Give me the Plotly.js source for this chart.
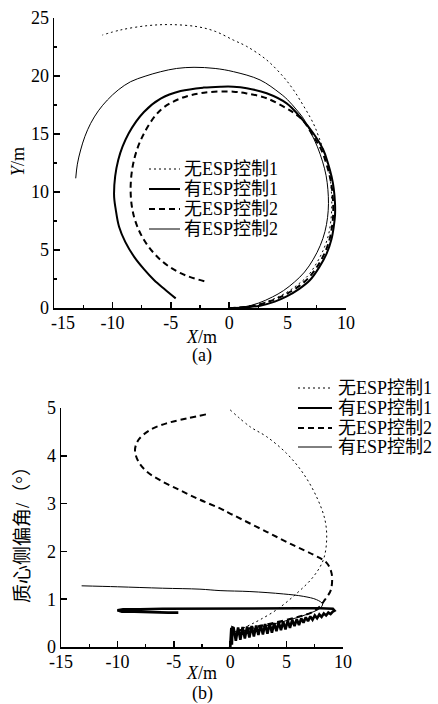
<!DOCTYPE html>
<html>
<head>
<meta charset="utf-8">
<script src="https://cdn.plot.ly/plotly-3.0.1.min.js"></script>
<style>html,body{margin:0;padding:0;background:#fff;}#chart{width:438px;height:704px;}</style>
</head>
<body>
<div id="chart"></div>
<script>
// ---------- legend / tick labels ----------
const legendNames = ['无ESP控制1', '有ESP控制1', '无ESP控制2', '有ESP控制2'];
const xTickVals = [-15, -10, -5, 0, 5, 10];
const xTickTextA = ['\u00a0\u00a0\u00a0\u00a0-15', '-10', '-5', '0', '5', '10'];
const xTickTextB = ['-15', '-10', '-5', '0', '5', '10'];

// ---------- (a) trajectories: X (m) vs Y (m) ----------
const trajNoEsp1X = [0, 1.4, 2.6, 3.85, 4.85, 5.85, 6.75, 7.5, 8.1, 8.5, 8.7, 8.78, 8.77, 8.68, 8.45, 8.06, 7.65, 7.2, 6.06, 5.4, 4.63, 3.21, 1.5, 0.35, -1.2, -2.73, -5.01, -7.0, -9.29, -10.86];
const trajNoEsp1Y = [0, 0.1, 0.33, 0.8, 1.3, 2.0, 2.8, 3.9, 5.1, 6.3, 7.5, 8.6, 9.6, 10.8, 12.3, 13.62, 14.8, 15.92, 17.93, 18.95, 19.94, 21.38, 22.55, 23.1, 23.85, 24.25, 24.43, 24.34, 23.97, 23.53];

const trajEsp1X = [0, 1.3, 2.64, 3.9, 4.92, 6.0, 6.92, 7.7, 8.35, 8.75, 8.95, 9.06, 9.06, 8.95, 8.77, 8.45, 8.06, 7.2, 6.06, 4.92, 3.21, 1.5, 0.35, -0.73, -2.2, -4.16, -5.87, -7.3, -8.6, -9.5, -9.86, -9.7, -9.43, -8.9, -8.15, -7.3, -6.44, -5.5, -4.58];
const trajEsp1Y = [0, 0.05, 0.2, 0.55, 1.0, 1.65, 2.41, 3.5, 4.71, 5.9, 7.0, 8.0, 9.0, 10.3, 11.32, 12.5, 13.62, 15.06, 16.49, 17.64, 18.51, 18.95, 19.08, 19.08, 19.0, 18.7, 18.05, 16.9, 15.06, 12.76, 9.89, 8.4, 7.0, 5.7, 4.43, 3.35, 2.42, 1.6, 0.83];

const trajNoEsp2X = [0, 1.3, 2.6, 3.8, 4.8, 5.85, 6.75, 7.55, 8.2, 8.6, 8.8, 8.9, 8.9, 8.8, 8.62, 8.3, 7.9, 7.08, 6.3, 5.5, 4.92, 3.21, 1.5, 0.35, -2.16, -4.16, -5.87, -7.29, -8.15, -8.44, -8.15, -7.29, -5.87, -4.16, -2.01];
const trajNoEsp2Y = [0, 0.08, 0.3, 0.7, 1.15, 1.8, 2.55, 3.6, 4.8, 5.95, 7.0, 8.0, 9.0, 10.3, 11.32, 12.5, 13.62, 15.0, 16.2, 16.85, 17.21, 18.08, 18.5, 18.65, 18.56, 18.07, 17.07, 15.06, 12.76, 10.17, 7.87, 5.86, 4.14, 3.0, 2.27];

const trajEsp2X = [0, 1.3, 2.5, 3.7, 4.65, 5.6, 6.45, 7.2, 7.8, 8.2, 8.42, 8.5, 8.45, 8.3, 8.0, 7.55, 7.0, 6.35, 5.78, 5.0, 4.35, 2.64, 0.38, -1.2, -3.01, -4.5, -5.87, -7.2, -8.44, -9.5, -10.43, -11.2, -11.86, -12.35, -12.72, -13.0, -13.14];
const trajEsp2Y = [0, 0.1, 0.42, 0.95, 1.5, 2.25, 3.1, 4.2, 5.4, 6.6, 7.8, 9.0, 10.2, 11.4, 12.6, 13.9, 15.1, 16.35, 17.07, 17.95, 18.51, 19.66, 20.37, 20.65, 20.75, 20.65, 20.37, 19.98, 19.51, 18.8, 17.93, 17.0, 15.92, 14.8, 13.62, 12.4, 11.18];

// ---------- (b) sideslip angle (deg) vs X (m) ----------
const betaNoEsp1X = [0, 0.2, 0.6, 1.2, 1.9, 2.64, 4.12, 5.89, 7.37, 8.25, 8.55, 8.4, 7.66, 6.48, 5.0, 3.23, 1.75, 0];
const betaNoEsp1Y = [0, 0.25, 0.3, 0.4, 0.48, 0.57, 0.78, 1.12, 1.47, 1.82, 2.24, 2.66, 3.14, 3.63, 4.05, 4.4, 4.61, 4.96];

const betaEsp1X = [0, 0.1, 0.15, 0.2, 0.3, 0.5, 0.7, 0.9, 1.1, 1.3, 1.5, 1.7, 1.9, 2.1, 2.3, 2.5, 2.7, 2.9, 3.1, 3.3, 3.5, 3.7, 3.9, 4.1, 4.3, 4.5, 4.7, 4.9, 5.1, 5.3, 5.5, 5.7, 5.9, 6.1, 6.3, 6.5, 6.7, 6.9, 7.1, 7.3, 7.5, 7.7, 7.9, 8.1, 8.3, 8.5, 8.7, 8.9, 9.1, 9.25, 9.1, 8.0, 6.0, 4.0, 2.0, 0, -2, -4, -6, -8, -9.5, -10.0, -9.6, -8.5, -7.5, -6.5, -5.5, -4.6];
const betaEsp1Y = [0, 0.40, 0.05, 0.41, 0.40, 0.13, 0.41, 0.15, 0.42, 0.18, 0.43, 0.20, 0.44, 0.22, 0.45, 0.25, 0.46, 0.26, 0.48, 0.28, 0.49, 0.30, 0.50, 0.33, 0.52, 0.35, 0.53, 0.37, 0.55, 0.40, 0.57, 0.44, 0.58, 0.46, 0.60, 0.51, 0.62, 0.54, 0.64, 0.57, 0.66, 0.60, 0.68, 0.63, 0.70, 0.66, 0.72, 0.69, 0.74, 0.76, 0.80, 0.81, 0.81, 0.81, 0.81, 0.81, 0.80, 0.80, 0.80, 0.79, 0.79, 0.77, 0.74, 0.74, 0.73, 0.73, 0.72, 0.72];

const betaNoEsp2X = [0, 0.3, 1.5, 3, 4.5, 6, 7.2, 7.96, 8.4, 8.85, 8.99, 8.99, 8.55, 7.37, 5.59, 3.23, 0.27, -0.9, -2.68, -4.45, -6.22, -7.40, -8.14, -8.44, -8.14, -7.11, -5.63, -3.86, -2.08];
const betaNoEsp2Y = [0, 0.3, 0.38, 0.46, 0.54, 0.63, 0.72, 0.85, 0.99, 1.15, 1.26, 1.54, 1.76, 1.93, 2.13, 2.41, 2.76, 2.90, 3.08, 3.28, 3.49, 3.67, 3.88, 4.12, 4.33, 4.54, 4.68, 4.78, 4.87];

const betaEsp2X = [0, 0.3, 1.5, 3, 4.5, 6, 7.2, 7.96, 8.19, 7.66, 6.48, 4.71, 1.75, -0.9, -2.68, -6, -10, -13.17];
const betaEsp2Y = [0, 0.3, 0.35, 0.43, 0.52, 0.62, 0.72, 0.81, 0.9, 0.99, 1.06, 1.11, 1.16, 1.18, 1.21, 1.23, 1.26, 1.28];

// ---------- styling ----------
const FONT = 'Liberation Serif, Times New Roman, Noto Sans CJK SC, serif';
const FS = 18;
const styles = [
  {color: '#000', width: 1, dash: '2px,3px'},
  {color: '#000', width: 2, dash: 'solid'},
  {color: '#000', width: 2, dash: '6px,4px'},
  {color: '#000', width: 1, dash: 'solid'}
];

const trajX = [trajNoEsp1X, trajEsp1X, trajNoEsp2X, trajEsp2X];
const trajY = [trajNoEsp1Y, trajEsp1Y, trajNoEsp2Y, trajEsp2Y];
const betaX = [betaNoEsp1X, betaEsp1X, betaNoEsp2X, betaEsp2X];
const betaY = [betaNoEsp1Y, betaEsp1Y, betaNoEsp2Y, betaEsp2Y];

const data = [];
for (let i = 0; i < 4; i++) {
  data.push({x: trajX[i], y: trajY[i], type: 'scatter', mode: 'lines', name: legendNames[i], showlegend: false,
    line: Object.assign({shape: 'spline', smoothing: 1}, styles[i]), xaxis: 'x', yaxis: 'y'});
}
for (let i = 0; i < 4; i++) {
  const sh = (i === 1) ? 'linear' : 'spline';
  const st = Object.assign({shape: sh, smoothing: 1}, styles[i]);
  if (i === 1) st.width = 2.6;
  data.push({x: betaX[i], y: betaY[i], type: 'scatter', mode: 'lines', name: legendNames[i], showlegend: false,
    line: st, xaxis: 'x2', yaxis: 'y2'});
}

const W = 438, H = 704;
function axisBase(extra) {
  return Object.assign({
    showline: true, linecolor: '#000', linewidth: 1.5, mirror: false,
    ticks: 'inside', ticklen: 6, tickwidth: 1.5, tickcolor: '#000',
    showgrid: false, zeroline: false, fixedrange: true,
    tickfont: {family: FONT, size: FS, color: '#000'}
  }, extra);
}
const minorX = {dtick: 2.5, tick0: 0, ticks: 'inside', ticklen: 3, tickwidth: 1.2, tickcolor: '#000'};

// custom legends (line samples as shapes, labels as annotations)
const shapes = [];
const annotations = [];
function addLegend(x0, x1, xt, rows) {
  for (let i = 0; i < 4; i++) {
    const yy = 1 - rows[i] / H;
    shapes.push({type: 'line', xref: 'paper', yref: 'paper', x0: x0 / W, x1: x1 / W, y0: yy, y1: yy,
      line: {color: '#000', width: styles[i].width, dash: styles[i].dash}});
    annotations.push({text: legendNames[i], xref: 'paper', yref: 'paper', x: xt / W, y: yy,
      xanchor: 'left', yanchor: 'middle', showarrow: false, font: {family: FONT, size: FS, color: '#000'}});
  }
}
addLegend(149, 180, 182, [169, 189, 209, 229]);
addLegend(298, 332, 336, [388, 408, 428, 447]);

function label(text, x, y, angle, size) {
  annotations.push({text: text, xref: 'paper', yref: 'paper', x: x / W, y: 1 - y / H, xanchor: 'center', yanchor: 'middle',
    textangle: angle || 0, showarrow: false, font: {family: FONT, size: size || FS, color: '#000'}});
}
label('<i>Y</i>/m', 18, 162, -90);
label('<i>X</i>/m', 201, 337);
label('(a)', 202, 355);
label('质心侧偏角/（°）', 22, 530, -90, 19);
label('<i>X</i>/m', 201, 673);
label('(b)', 202, 693);

const layout = {
  width: W, height: H,
  margin: {l: 0, r: 0, t: 0, b: 0},
  paper_bgcolor: '#fff', plot_bgcolor: '#fff',
  font: {family: FONT, size: FS, color: '#000'},
  showlegend: false,
  xaxis: axisBase({domain: [54 / W, 346 / W], range: [-15, 10], tickmode: 'array', tickvals: xTickVals, ticktext: xTickTextA,
    anchor: 'y', ticklabelstandoff: -2, minor: minorX}),
  yaxis: axisBase({domain: [1 - 308 / H, 1 - 18 / H], range: [0, 25], dtick: 5, tick0: 0, anchor: 'x',
    minor: {dtick: 2.5, tick0: 0, ticks: 'inside', ticklen: 3, tickwidth: 1.2, tickcolor: '#000'}}),
  xaxis2: axisBase({domain: [61 / W, 343 / W], range: [-15, 10], tickmode: 'array', tickvals: xTickVals, ticktext: xTickTextB,
    anchor: 'y2', ticklabelstandoff: -2, minor: minorX}),
  yaxis2: axisBase({domain: [1 - 647 / H, 1 - 408 / H], range: [0, 5], dtick: 1, tick0: 0, anchor: 'x2'}),
  shapes: shapes,
  annotations: annotations
};

Plotly.newPlot('chart', data, layout, {displayModeBar: false, staticPlot: true});
</script>
</body>
</html>
